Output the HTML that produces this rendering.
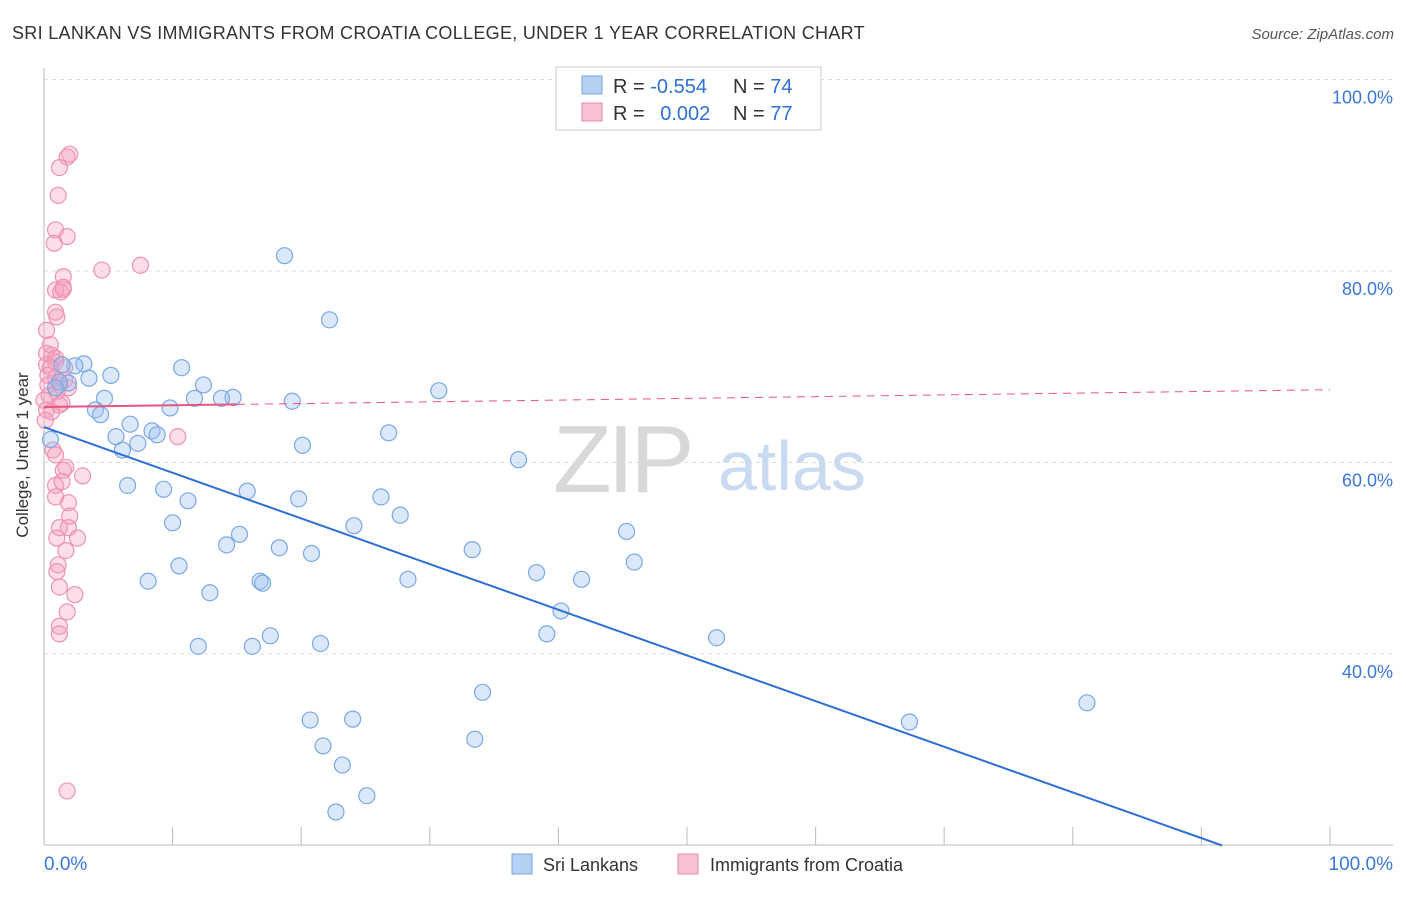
<!DOCTYPE html>
<html><head><meta charset="utf-8"><style>
body{margin:0;background:#fff;font-family:"Liberation Sans",sans-serif}
svg text{font-family:"Liberation Sans",sans-serif}
</style></head><body>
<svg id="chart" width="1406" height="892" viewBox="0 0 1406 892" xmlns="http://www.w3.org/2000/svg">
<text x="12" y="39" font-size="18" fill="#333" letter-spacing="0.3">SRI LANKAN VS IMMIGRANTS FROM CROATIA COLLEGE, UNDER 1 YEAR CORRELATION CHART</text>
<text x="1394" y="39" font-size="15" fill="#555" font-style="italic" text-anchor="end">Source: ZipAtlas.com</text>
<g id="grid"></g>
<g>
<text x="553" y="492" font-size="96" fill="#d8d8d8" font-family="Liberation Serif" letter-spacing="-4">ZIP</text>
<text x="718" y="490" font-size="70" fill="#c9daf1">atlas</text>
</g>
<g id="axes"></g>
<g id="pts"></g>
<g id="lines"></g>
<text x="28" y="455" font-size="17" fill="#333" text-anchor="middle" transform="rotate(-90 28 455)">College, Under 1 year</text>
<g>
<rect x="556" y="67" width="265" height="63" fill="#fff" stroke="#ccc"/>
<rect x="582" y="76" width="20" height="18" fill="#b6d0f3" stroke="#7aa7e0"/>
<rect x="582" y="103" width="20" height="18" fill="#f8c2d3" stroke="#ec8aab"/>
<text x="613" y="93" font-size="20" fill="#333">R = <tspan fill="#2f6fd6">-0.554</tspan></text>
<text x="733" y="93" font-size="20" fill="#333">N = <tspan fill="#2f6fd6">74</tspan></text>
<text x="613" y="120" font-size="20" fill="#333">R = <tspan fill="#2f6fd6" dx="10">0.002</tspan></text>
<text x="733" y="120" font-size="20" fill="#333">N = <tspan fill="#2f6fd6">77</tspan></text>
</g>
<g>
<rect x="512" y="854" width="20" height="20" fill="#b6d0f3" stroke="#7aa7e0"/>
<text x="543" y="871" font-size="18" fill="#333">Sri Lankans</text>
<rect x="678" y="854" width="20" height="20" fill="#f8c2d3" stroke="#ec8aab"/>
<text x="710" y="871" font-size="18" fill="#333">Immigrants from Croatia</text>
</g>
</svg>
<script>
const blueX=[18.7,22.2,10.7,12.4,14.7,19.3,30.7,3.1,2.4,5.2,3.5,1.9,4.7,4.0,4.4,9.8,11.7,13.8,6.7,5.6,6.1,7.3,8.4,8.8,20.1,26.8,36.9,6.5,9.3,11.2,15.8,19.8,26.2,10.0,15.2,14.2,24.1,27.7,18.3,20.8,33.3,45.3,45.9,10.5,8.1,16.8,17.0,28.3,38.3,41.8,12.9,40.2,39.1,12.0,16.2,17.6,21.5,52.3,34.1,20.7,24.0,33.5,21.7,67.3,81.1,23.2,25.1,22.7,1.2,0.9,0.5,1.4];
const blueY=[81.6,74.9,69.9,68.1,66.8,66.4,67.5,70.3,70.1,69.1,68.8,68.3,66.7,65.5,65.0,65.7,66.7,66.7,64.0,62.7,61.3,62.0,63.3,62.9,61.8,63.1,60.3,57.6,57.2,56.0,57.0,56.2,56.4,53.7,52.5,51.4,53.4,54.5,51.1,50.5,50.9,52.8,49.6,49.2,47.6,47.6,47.4,47.8,48.5,47.8,46.4,44.5,42.1,40.8,40.8,41.9,41.1,41.7,36.0,33.1,33.2,31.1,30.4,32.9,34.9,28.4,25.2,23.5,68.4,67.8,62.4,70.2];
const pinkX=[2.0,1.8,1.2,1.1,0.9,0.8,1.8,4.5,7.5,1.5,1.5,0.9,1.3,1.5,0.9,1.0,0.2,0.6,0.9,0.2,0.9,0.5,1.6,0.3,0.9,1.6,0.3,1.2,1.9,0.4,1.0,1.4,0.2,0.6,1.2,10.4,0.7,0.9,1.7,1.5,3.0,0.9,1.4,0.9,1.9,2.0,1.2,1.9,2.6,1.0,1.7,1.1,1.0,1.2,2.4,1.8,1.2,1.2,1.8,0.2,0.5,0.1,0.0];
const pinkY=[92.2,91.9,90.8,87.9,84.3,82.9,83.6,80.1,80.6,79.4,78.3,78.0,77.8,78.1,75.7,75.2,71.4,71.2,70.9,70.2,70.5,69.9,69.9,69.1,68.8,68.6,68.1,68.1,67.8,67.0,67.4,66.2,65.5,65.3,66.0,62.7,61.3,60.8,59.5,59.2,58.6,57.6,58.0,56.4,55.8,54.4,53.2,53.2,52.1,52.1,50.8,49.3,48.6,47.0,46.2,44.4,42.9,42.1,25.7,73.8,72.3,64.4,66.5];
const yTicks=[100,80,60,40];
const blueLine=[63.7,-0.477];
const pinkLine=[65.8,0.018];
const NS="http://www.w3.org/2000/svg";
const sx=v=>44+v*12.86, sy=v=>79.5+(100-v)*9.575;
function mk(tag,attrs,parent){const e=document.createElementNS(NS,tag);for(const k in attrs)e.setAttribute(k,attrs[k]);parent.appendChild(e);return e;}
const grid=document.getElementById('grid'),axes=document.getElementById('axes'),pts=document.getElementById('pts'),lines=document.getElementById('lines');
yTicks.forEach(t=>{
 const l=mk('line',{x1:44,x2:1393,y1:sy(t),y2:sy(t),stroke:'#ddd','stroke-dasharray':'4,4'},grid);
 
 
 const tx=mk('text',{x:1393,y:sy(t)+24,'font-size':18,fill:'#3a78d8','text-anchor':'end'},grid);
 tx.textContent=t.toFixed(1)+'%';
 
 
});
let a=mk('line',{x1:44,x2:44,y1:68,y2:845,stroke:'#bbb'},axes);


a=mk('line',{x1:44,x2:1393,y1:845,y2:845,stroke:'#bbb'},axes);


for(let i=1;i<=10;i++){const t=mk('line',{x1:sx(i*10),x2:sx(i*10),y1:827,y2:845,stroke:'#bbb'},axes);
 
 }
let xl=mk('text',{x:44,y:870,'font-size':19,fill:'#3a78d8'},axes);xl.textContent='0.0%';


xl=mk('text',{x:1393,y:870,'font-size':19,fill:'#3a78d8','text-anchor':'end'},axes);xl.textContent='100.0%';


pinkX.forEach((x,i)=>{const c=mk('circle',{cx:sx(x),cy:sy(pinkY[i]),r:8,fill:'rgba(244,160,188,0.35)',stroke:'#ee93b2','stroke-width':1.2},pts);
 
 });
blueX.forEach((x,i)=>{const c=mk('circle',{cx:sx(x),cy:sy(blueY[i]),r:8,fill:'rgba(150,190,240,0.35)',stroke:'#7ba8e3','stroke-width':1.2},pts);
 
 });
const bx2=(20-blueLine[0])/blueLine[1];
let ln=mk('line',{x1:sx(0),y1:sy(blueLine[0]),x2:sx(bx2),y2:sy(20),stroke:'#2f6fd6','stroke-width':2},lines);


ln=mk('line',{x1:sx(0),y1:sy(pinkLine[0]),x2:sx(15),y2:sy(pinkLine[0]+15*pinkLine[1]),stroke:'#e8557f','stroke-width':2},lines);


ln=mk('line',{x1:sx(15),y1:sy(pinkLine[0]+15*pinkLine[1]),x2:sx(100),y2:sy(pinkLine[0]+100*pinkLine[1]),stroke:'#e8557f','stroke-width':1,'stroke-dasharray':'8,6'},lines);


</script>
</body></html>
